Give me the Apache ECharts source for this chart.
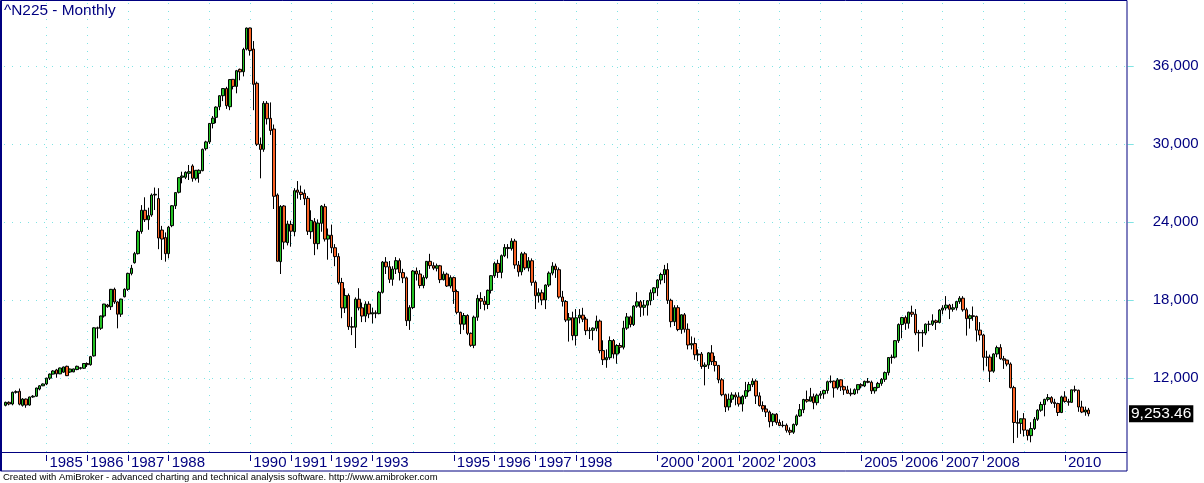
<!DOCTYPE html>
<html><head><meta charset="utf-8">
<script src="https://cdn.jsdelivr.net/npm/echarts@6/dist/echarts.min.js"></script>
<style>html,body{margin:0;padding:0;background:#fff;}#c{width:1204px;height:483px;}</style>
</head><body><div id="c"></div>
<script>
// Nikkei 225 monthly, Jan 1984 .. Aug 2010 (last month partial)
const startYear = 1984;
const totalSlots = 331; // months on the x axis (data + empty right margin)
const openV = [
9900,10130,10000,10900,10980,9900,10380,9920,10540,10600,11150,11400,
11542,11990,12300,12620,12320,12450,12900,12460,12470,12650,12790,12750,
13113,13024,13700,15860,15825,16770,17615,17485,18820,17850,16910,18250,
18820,20048,20870,21566,23274,24902,24176,24540,26077,25800,23380,22800,
21564,23720,25250,26285,27440,27440,27745,28310,27360,27745,27950,29640,
30160,31581,32050,32870,33715,34266,32870,34975,34431,35745,35560,37300,
38921,37300,34670,29980,29590,33130,31975,31150,26077,20950,25230,22410,
23820,23255,26460,26292,26205,25820,23255,24025,22336,23900,25180,22687,
22984,22023,21339,19346,17391,18348,15952,15910,18061,17399,16767,17684,
16925,17024,16953,18591,20919,20552,19590,20380,21027,20106,19703,16408,
17417,20229,19997,19112,19725,20974,20644,20449,20629,19564,19990,19076,
19723,18650,17053,16140,16807,15437,14517,16678,18117,17913,17655,18744,
19868,20813,20125,21407,22041,21956,22531,20693,20167,21556,20467,21020,
19361,18330,18557,18003,19151,20069,20605,20331,18229,17888,16459,16636,
15259,16628,16832,16527,15641,15671,15831,16379,14108,13406,13564,14884,
13842,14499,14368,15837,16702,16112,17530,17862,17437,17605,17942,18558,
18934,19540,19960,20337,17974,16332,17411,15727,16861,15747,14539,14649,
13786,13844,12884,12999,13934,13262,12969,11861,10714,9775,10367,10697,
10543,9998,10588,11025,11493,11764,10622,9878,9619,9383,8640,9216,
8579,8340,8363,7973,7831,8425,9083,9563,10344,10219,10560,10101,
10677,10784,11042,11715,11762,11236,11859,11326,11082,10824,10771,11100,
11489,11388,11741,11669,11009,11277,11584,11900,12414,13574,13607,14872,
16111,16650,16206,17060,16906,15467,15505,15457,16141,16128,16399,16274,
17226,17383,17604,17288,17400,17876,18138,17249,16569,16786,16738,15681,
15308,13592,13604,12526,13850,14339,13481,13377,13073,11260,8577,8512,
8860,7994,7568,8110,8828,9523,9958,10357,10493,10133,10035,9346,
10546,10198,10126,11090,11057,9769,9383,9537
];
const highV = [
10180,10200,10950,11050,11190,10450,10420,10560,10680,11250,11450,11580,
12020,12350,12600,12700,12800,12880,12950,12720,12720,12950,12850,13130,
13200,13700,15900,15950,16800,17700,17700,18850,18950,17900,18100,18900,
20100,20700,21700,23400,25300,25900,25100,26200,26650,26600,23700,23200,
23700,25300,26300,27450,27870,27900,28385,28440,28000,28050,29650,30250,
31600,32150,32900,33750,34300,34400,35000,35000,35700,35800,37400,38957,
38951,37920,34800,30500,33300,33300,33200,31500,26200,25300,25300,24100,
24100,26600,27150,26800,26500,26000,24900,24300,24200,25300,25400,23500,
23800,22300,21600,19700,18900,18500,16700,18200,18908,17800,17900,17900,
17400,17200,18700,21000,21300,21000,20600,21300,21200,20400,19800,17600,
20300,20500,20300,19900,21000,21552,20900,20800,20700,20200,20100,19900,
19800,18800,17100,17000,16900,15500,16800,18400,18600,18300,18800,19900,
20950,21100,21500,22300,22300,22750,22700,21000,21700,21700,21300,21200,
19500,18900,18800,19200,20200,20910,20800,20500,18700,18000,17000,17100,
17300,17300,17400,16700,15900,15900,16800,16500,14900,14200,15200,15000,
14600,14700,16400,17000,16800,17600,18600,18000,18000,18000,18800,19000,
19600,20100,20700,20833,18100,17600,17600,16900,17000,16200,15200,15100,
14200,14000,13200,14000,14529,13700,13000,12000,10800,10800,10900,10900,
10900,10700,11700,11700,11979,11900,10900,10200,9900,9500,9300,9300,
8800,8700,8500,8200,8500,9200,10000,10400,11033,11238,10800,10800,
11000,11100,11800,12195,11800,12000,11900,11400,11400,11200,11200,11500,
11600,11800,12000,11800,11300,11700,12000,12500,13600,13800,14900,16200,
16700,16800,17100,17563,17300,15700,15700,16200,16400,16900,16500,17300,
17600,18300,17700,17700,17900,18300,18295,17400,16900,17500,16800,16300,
15400,14100,13800,13900,14489,14600,13700,13400,13200,11400,9500,8900,
9300,8000,8600,9000,9600,10170,10400,10767,10600,10400,10100,10640,
10982,10400,11100,11408,11100,10250,9800,9700
];
const lowV = [
9820,9900,9900,10800,9900,9800,9710,9870,10480,10560,11050,11380,
11450,11850,12280,12020,12300,12400,12150,12400,12450,12600,12650,12700,
12850,12950,13650,15050,15700,16650,17400,17230,17700,15820,16700,18200,
18700,19900,20800,21500,23100,24000,23400,24400,24920,21910,21080,20950,
21200,23600,25000,26200,26976,27300,27230,27100,27200,27025,27900,29500,
30000,31200,31600,32600,33300,32700,32600,34200,33900,34900,35200,37200,
36800,32600,29843,27360,29400,31500,30700,25000,20950,20000,21900,22200,
22100,22900,25800,25700,25300,23000,22700,21450,21900,23250,22500,21100,
21600,20600,19200,16600,17000,15700,15300,14309,17200,16300,16300,16600,
16200,16600,16900,18500,20000,19300,19100,20000,19500,19300,16000,15700,
17300,19500,18900,18900,19600,20400,20300,20200,19300,19500,19000,18900,
17700,16900,15380,15700,15300,14400,14295,16400,17300,17200,17300,18500,
19700,19700,19670,21300,21200,21800,20400,19800,19900,20300,20200,19100,
17300,17800,17600,17300,19000,19900,19700,18100,17500,16300,14800,14900,
14500,16200,16300,15300,15000,14900,15600,13900,13000,12787,13400,13500,
13100,13900,14200,15700,15900,16000,17400,16700,16800,16800,17600,18000,
18300,19200,19300,17700,15900,16000,15600,15400,15500,14200,14200,13400,
13300,12700,11433,12700,13000,12500,11600,10600,9382,9500,10100,9900,
9800,9420,10400,10900,11300,10000,9800,9400,9000,8200,8300,8400,
8300,8200,7800,7607,7700,8300,9000,9300,10100,10200,9600,9900,
10400,10400,10800,11600,10489,11100,11000,10700,10800,10600,10700,10800,
11200,11300,11600,10770,10800,11200,11400,11700,12200,13100,13500,14700,
15059,15700,15800,16700,15300,14045,14400,15300,15600,16000,15700,16200,
16900,17200,16532,17100,17200,17700,17100,15262,15800,16400,14800,14900,
12573,12900,11691,12400,13600,13400,12700,12900,11200,6995,7400,7700,
7500,7200,7054,8000,8700,9400,9050,10200,10000,9700,9076,9300,
10100,9867,10100,10900,9400,9300,9100,9050
];
const closeV = [
10130,10000,10900,10950,9990,10380,9920,10540,10600,11230,11400,11542,
11990,12300,12540,12320,12770,12850,12180,12690,12700,12900,12740,13113,
13024,13640,15860,15825,16770,17690,17485,18820,17850,16910,18070,18820,
20048,20440,21566,23274,24902,24176,24488,26077,26130,22765,22690,21564,
23600,25250,26260,27410,27540,27820,27870,27360,27975,27975,29590,30159,
31581,31985,32839,33713,34266,32949,34954,34431,35637,35549,37269,38916,
37189,34591,29980,29585,33131,31940,31036,25978,20984,25194,22455,23849,
23293,26409,26292,26111,25790,23291,24121,22336,23916,25222,22687,22984,
22023,21339,19346,17391,18348,15952,15910,18061,17399,16767,17684,16925,
17024,16953,18591,20919,20552,19590,20380,21027,20106,19703,16408,17417,
20229,19997,19112,19725,20974,20644,20449,20629,19564,19990,19076,19723,
18650,17053,16140,16807,15437,14517,16678,18117,17913,17655,18744,19868,
20813,20125,21407,22041,21956,22531,20693,20167,21556,20467,21020,19361,
18330,18557,18003,19151,20069,20605,20331,18229,17888,16459,16636,15259,
16628,16832,16527,15641,15671,15831,16379,14108,13406,13564,14884,13842,
14499,14368,15837,16702,16112,17530,17862,17437,17605,17942,18558,18934,
19540,19960,20337,17974,16332,17411,15727,16861,15747,14539,14649,13786,
13844,12884,12999,13934,13262,12969,11861,10714,9775,10367,10697,10543,
9998,10588,11025,11493,11764,10622,9878,9619,9383,8640,9216,8579,
8340,8363,7973,7831,8425,9083,9563,10344,10219,10560,10101,10677,
10784,11042,11715,11762,11236,11859,11326,11082,10824,10771,11100,11489,
11388,11741,11669,11009,11277,11584,11900,12414,13574,13607,14872,16111,
16650,16206,17060,16906,15467,15505,15457,16141,16128,16399,16274,17226,
17383,17604,17288,17400,17876,18138,17249,16569,16786,16738,15681,15308,
13592,13604,12526,13850,14339,13481,13377,13073,11260,8577,8512,8860,
7994,7568,8110,8828,9523,9958,10357,10493,10133,10035,9346,10546,
10198,10126,11090,11057,9769,9383,9537,9253.46
];
const labelYears = [1985,1986,1987,1988,1990,1991,1992,1993,1995,1996,1997,1998,
  2000,2001,2002,2003,2005,2006,2007,2008,2010];
const gridYears = [1985,1986,1987,1988,1989,1990,1991,1992,1993,1994,1995,1996,1997,
  1998,1999,2000,2001,2002,2003,2004,2005,2006,2007,2008,2009,2010];
const yTicks = [12000,18000,24000,30000,36000];
const titleText = '^N225 - Monthly';
const footerText = 'Created with AmiBroker - advanced charting and technical analysis software. http://www.amibroker.com';

const NAVY = '#000080';
const GRIDC = '#7fe3e3';

const months = [];
for (let k = 0; k < totalSlots; k++) {
  const y = startYear + Math.floor(k / 12), m = k % 12 + 1;
  months.push(y + '-' + (m < 10 ? '0' + m : m));
}
const candles = openV.map((o, i) => [o, closeV[i], lowV[i], highV[i]]);
const labelSet = new Set(labelYears.map(y => y + '-01'));
const showYear = (idx, val) => labelSet.has(val);

const gridMarks = gridYears.map(y => ({ xAxis: y + '-01' }))
  .concat(yTicks.map(v => ({ yAxis: v })));

const fmt = v => v.toLocaleString('en-US');

const chart = echarts.init(document.getElementById('c'), null, { renderer: 'canvas' });
chart.setOption({
  animation: false,
  backgroundColor: '#ffffff',
  textStyle: { fontFamily: 'Liberation Sans, Arial, sans-serif' },
  grid: { left: 4, right: 76.3, top: 1, bottom: 31, containLabel: false },
  xAxis: {
    type: 'category', data: months, boundaryGap: true, offset: 3,
    axisLine: { show: false },
    axisTick: { show: true, interval: showYear, alignWithLabel: true, length: 6,
      lineStyle: { color: NAVY, width: 1 } },
    axisLabel: { interval: showYear, formatter: v => v.slice(0, 4), align: 'left',
      padding: [0, 0, 0, 3], margin: 0, color: NAVY, fontSize: 15,
      fontFamily: 'Liberation Sans, Arial, sans-serif' },
    splitLine: { show: false }
  },
  yAxis: {
    type: 'value', position: 'right', min: 6308, max: 41000, scale: true,
    axisLine: { show: false },
    axisTick: { show: true, customValues: yTicks, length: 6, lineStyle: { color: GRIDC } },
    axisLabel: { customValues: yTicks, formatter: v => fmt(v), margin: 25, color: NAVY,
      fontSize: 15, fontFamily: 'Liberation Sans, Arial, sans-serif' },
    splitLine: { show: false }
  },
  series: [{
    type: 'candlestick',
    data: candles,
    barWidth: 3,
    itemStyle: { color: '#22c022', color0: '#fa6224', borderColor: '#000', borderColor0: '#000',
      borderWidth: 1 },
    markLine: {
      silent: true, symbol: ['none', 'none'], z: 1, animation: false,
      label: { show: false },
      lineStyle: { color: GRIDC, type: [1, 7], width: 1 },
      emphasis: { disabled: true },
      data: gridMarks
    }
  }]
});

// frame, title, footer and last-price label
const lastClose = closeV[closeV.length - 1];
const yLast = chart.convertToPixel({ yAxisIndex: 0 }, lastClose);
chart.setOption({
  graphic: [
    { type: 'rect', shape: { x: 0.5, y: 0.5, width: 1126.5, height: 470.5 }, silent: true,
      style: { fill: null, stroke: NAVY, lineWidth: 1 }, z: 10 },
    { type: 'line', shape: { x1: 1.5, y1: 0, x2: 1.5, y2: 471 }, silent: true,
      style: { stroke: NAVY, lineWidth: 1 }, z: 10 },
    { type: 'line', shape: { x1: 0, y1: 452.5, x2: 1127, y2: 452.5 }, silent: true,
      style: { stroke: NAVY, lineWidth: 1 }, z: 10 },
    { type: 'text', left: 4, top: 3, silent: true, z: 10,
      style: { text: titleText, fill: NAVY, font: '15.4px "Liberation Sans", Arial, sans-serif' } },
    { type: 'text', left: 3, top: 472, silent: true, z: 10,
      style: { text: footerText, fill: '#000', font: '9.5px "Liberation Sans", Arial, sans-serif' } },
    { type: 'text', x: 1129, y: yLast, silent: true, z: 10,
      style: { text: fmt(lastClose), fill: '#fff', backgroundColor: '#000', padding: [1, 2, 0, 2],
        verticalAlign: 'middle', font: '15.5px "Liberation Sans", Arial, sans-serif' } }
  ]
});
</script>
</body></html>
